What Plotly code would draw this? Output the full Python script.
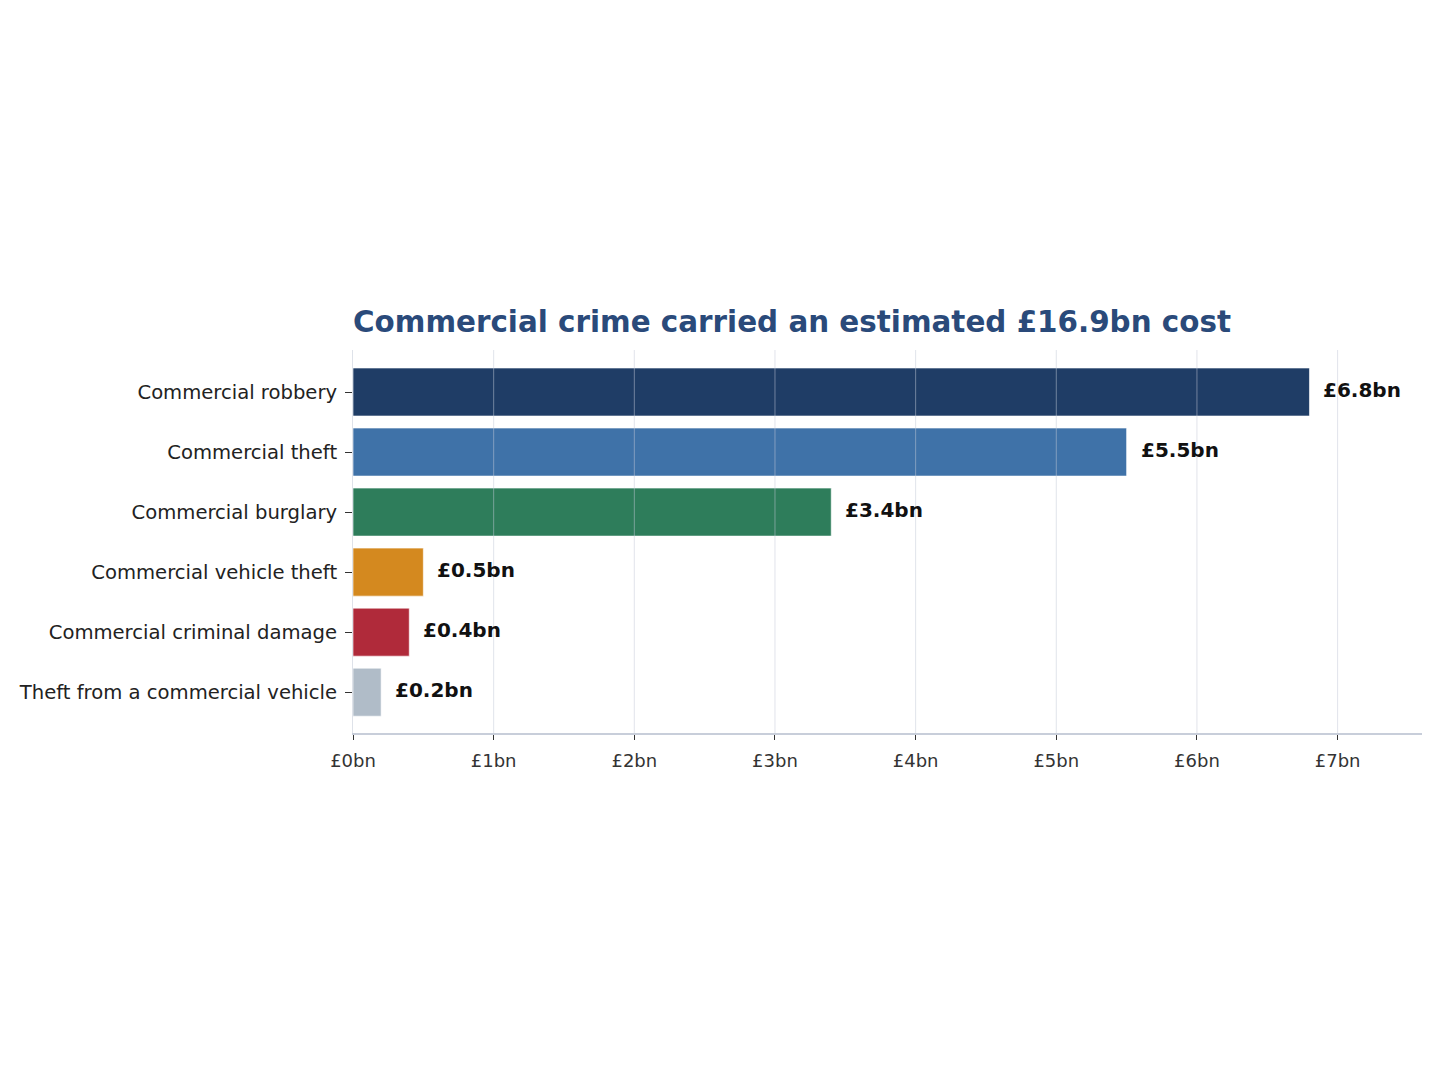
import plotly.graph_objects as go

categories = [
    "Commercial robbery",
    "Commercial theft",
    "Commercial burglary",
    "Commercial vehicle theft",
    "Commercial criminal damage",
    "Theft from a commercial vehicle",
]
costs_bn = [6.8, 5.5, 3.4, 0.5, 0.4, 0.2]
bar_colors = ["#1f3d66", "#3f72a8", "#2e7d5b", "#d4891f", "#b02a3a", "#b0bcc8"]
x_ticks = [0, 1, 2, 3, 4, 5, 6, 7]
x_tick_labels = ["£%dbn" % t for t in x_ticks]

fig = go.Figure()
fig.add_trace(go.Bar(
    x=costs_bn,
    y=categories,
    orientation="h",
    width=0.8,
    marker=dict(color=bar_colors, line=dict(color="rgba(255,255,255,0.6)", width=1)),
    hoverinfo="skip",
))

# value labels, a little off the bar ends
for cat, v in zip(categories, costs_bn):
    fig.add_annotation(
        x=v, y=cat, text="<b>£%.1fbn</b>" % v,
        xanchor="left", yanchor="middle", xshift=12, yshift=2,
        showarrow=False,
        font=dict(family="DejaVu Sans", size=20, color="#111111"),
    )

# grid lines drawn over the bars
for t in x_ticks[1:]:
    fig.add_shape(
        type="line", x0=t, x1=t, y0=0, y1=1, xref="x", yref="paper",
        line=dict(color="rgba(195,202,216,0.5)", width=1), layer="above",
    )

fig.update_layout(
    width=1440,
    height=1080,
    paper_bgcolor="white",
    plot_bgcolor="white",
    showlegend=False,
    margin=dict(l=345, r=26, t=342, b=355),
    title=dict(
        text="<b>Commercial crime carried an estimated £16.9bn cost</b>",
        x=345 / 1440,
        xanchor="left",
        y=1 - 314 / 1080,
        yanchor="middle",
        font=dict(family="DejaVu Sans", size=29.4, color="#2a4a7a"),
    ),
    font=dict(family="DejaVu Sans", size=19.6, color="#222222"),
)

fig.update_xaxes(
    range=[0, 7.6],
    tickvals=x_ticks,
    ticktext=x_tick_labels,
    showgrid=False,
    zeroline=False,
    showline=True,
    linecolor="#c8ceda",
    linewidth=2,
    ticks="outside",
    ticklen=5,
    tickcolor="#333333",
    ticklabelstandoff=5,
    tickfont=dict(size=18, color="#333333"),
)
fig.update_yaxes(
    categoryorder="array",
    categoryarray=categories,
    range=[5.68, -0.7],
    showgrid=False,
    zeroline=False,
    showline=True,
    linecolor="rgba(200,206,218,0.6)",
    linewidth=1,
    ticks="outside",
    ticklen=7,
    tickcolor="#333333",
    ticklabelstandoff=4,
    tickfont=dict(size=19.6, color="#222222"),
)

fig.write_html("out.html")
